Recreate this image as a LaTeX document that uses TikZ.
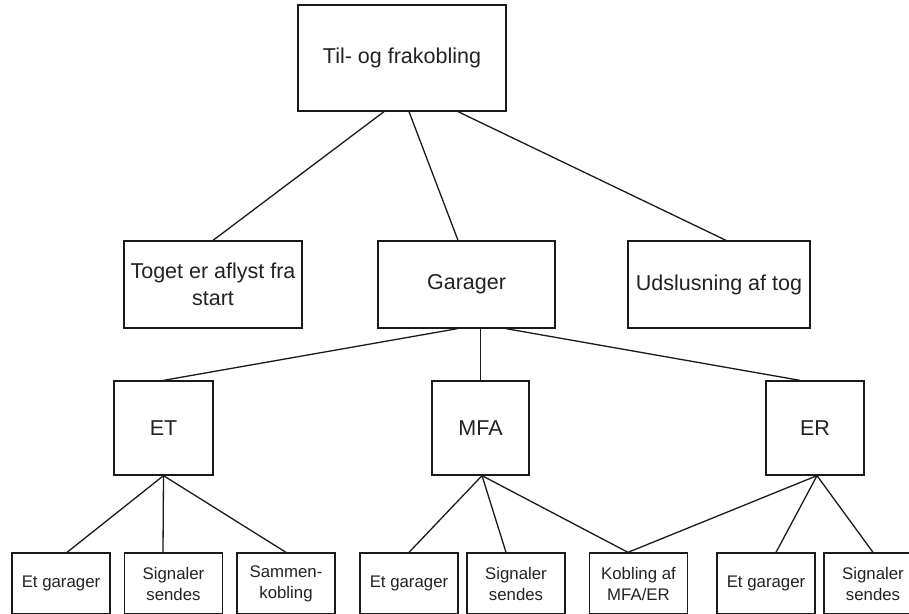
\documentclass[tikz,border=0pt]{standalone}
\usepackage{fontspec}
\setmainfont{Liberation Sans}
\definecolor{ink}{HTML}{1A1A1A}
\definecolor{txt}{HTML}{222222}
\begin{document}
\begin{tikzpicture}[x=1pt,y=-1pt,
  box/.style={draw=ink,line width=1.3pt,rectangle,inner sep=0pt,align=center,text=txt},
  bigbox/.style={box,font=\fontsize{21.5}{27}\selectfont},
  smallbox/.style={box,font=\fontsize{16.8}{21}\selectfont,minimum width=98pt,minimum height=61pt},
  link/.style={draw=ink,line width=1.3pt}]
\useasboundingbox (0,0) rectangle (909,613);
\clip (0,0) rectangle (909,613);
\fill[white] (0,0) rectangle (909,613);
% top
\node[bigbox,minimum width=208pt,minimum height=106pt] (top) at (402,58) {Til- og frakobling};
% second row
\node[bigbox,minimum width=178pt,minimum height=87pt] (toget) at (213,284.5) {Toget er aflyst fra\\start};
\node[bigbox,minimum width=177pt,minimum height=87pt] (garager) at (466.5,284.5) {Garager};
\node[bigbox,minimum width=182pt,minimum height=87pt] (udsl) at (719,284.5) {Udslusning af tog};
% third row
\node[bigbox,minimum width=99pt,minimum height=94pt] (et) at (163.5,428) {ET};
\node[bigbox,minimum width=97pt,minimum height=94pt] (mfa) at (480.5,428) {MFA};
\node[bigbox,minimum width=98pt,minimum height=94pt] (er) at (815,428) {ER};
% bottom row
\node[smallbox] (b1) at (61,583.5) {Et garager};
\node[smallbox] (b2) at (173.5,583.5) {Signaler\\sendes};
\node[smallbox] (b3) at (286,583.5) {Sammen-\\kobling};
\node[smallbox] (b4) at (409,583.5) {Et garager};
\node[smallbox] (b5) at (516,583.5) {Signaler\\sendes};
\node[smallbox] (b6) at (638.5,583.5) {Kobling af\\MFA/ER};
\node[smallbox] (b7) at (766,583.5) {Et garager};
\node[smallbox] (b8) at (873,583.5) {Signaler\\sendes};
% connectors
\draw[link] ([xshift=-18pt]top.south) -- (toget.north);
\draw[link] ([xshift=7pt]top.south) -- ([xshift=-8.5pt]garager.north);
\draw[link] ([xshift=56pt]top.south) -- ([xshift=7pt]udsl.north);
\draw[link] ([xshift=-9pt]garager.south) -- (et.north);
\draw[link] ([xshift=14pt]garager.south) -- (mfa.north);
\draw[link] ([xshift=39.5pt]garager.south) -- ([xshift=-15pt]er.north);
\draw[link] (et.south) -- ([xshift=6pt]b1.north);
\draw[link] (et.south) -- ([xshift=-10.5pt]b2.north);
\draw[link] (et.south) -- (b3.north);
\draw[link] ([xshift=1.5pt]mfa.south) -- (b4.north);
\draw[link] ([xshift=1.5pt]mfa.south) -- ([xshift=-10pt]b5.north);
\draw[link] ([xshift=1.5pt]mfa.south) -- ([xshift=-10.5pt]b6.north);
\draw[link] ([xshift=2pt]er.south) -- ([xshift=-10.5pt]b6.north);
\draw[link] ([xshift=2pt]er.south) -- ([xshift=10pt]b7.north);
\draw[link] ([xshift=2pt]er.south) -- (b8.north);
\end{tikzpicture}
\end{document}
